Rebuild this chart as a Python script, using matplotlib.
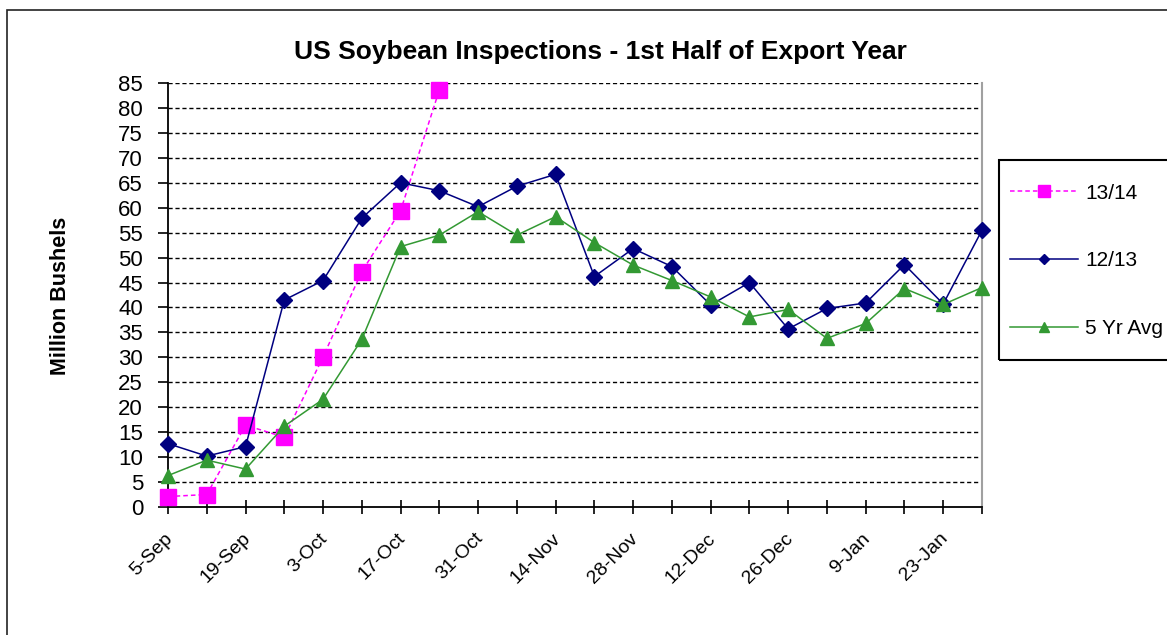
import matplotlib
matplotlib.use("Agg")
import matplotlib.pyplot as plt
import matplotlib.transforms as mtransforms
from matplotlib.patches import Rectangle

plt.rcParams['font.family'] = ['Liberation Sans', 'DejaVu Sans']

weeks = ['5-Sep', '12-Sep', '19-Sep', '26-Sep', '3-Oct', '10-Oct', '17-Oct', '24-Oct',
         '31-Oct', '7-Nov', '14-Nov', '21-Nov', '28-Nov', '5-Dec', '12-Dec', '19-Dec',
         '26-Dec', '2-Jan', '9-Jan', '16-Jan', '23-Jan', '30-Jan']
s1314 = [2.1, 2.5, 16.4, 14.0, 30.1, 47.2, 59.4, 83.6]
s1213 = [12.7, 10.2, 12.1, 41.5, 45.4, 57.9, 65.0, 63.4, 60.2, 64.3, 66.7, 46.2,
         51.8, 48.2, 40.5, 45.0, 35.7, 39.8, 40.9, 48.6, 40.7, 55.5]
avg5 = [6.3, 9.4, 7.6, 16.2, 21.6, 33.6, 52.2, 54.5, 59.2, 54.5, 58.2, 53.0,
        48.5, 45.4, 42.1, 38.1, 39.6, 33.8, 36.8, 43.8, 40.6, 44.0]
yticks = list(range(0, 90, 5))
series_names = ['13/14', '12/13', '5 Yr Avg']

W, H = 1167, 635
fig = plt.figure(figsize=(W / 100, H / 100), dpi=100)
fig.patch.set_facecolor('white')

# outer chart border (clipped at right/bottom like reference)
fig.patches.append(Rectangle((7 / W, -0.2), 1.2, (H - 10) / H + 0.2, transform=fig.transFigure,
                             fill=False, edgecolor='#222222', linewidth=1.2))

ax = fig.add_axes([168 / W, 1 - 507 / H, (982 - 168) / W, (507 - 83) / H])

x = list(range(len(weeks)))
ax.plot(x[:len(s1314)], s1314, color='#FF00FF', linestyle=(0, (3, 2)), linewidth=1.1,
        marker='s', markersize=12, markeredgecolor='#FF00FF', label=series_names[0],
        zorder=3, clip_on=False)
ax.plot(x, s1213, color='#000080', linewidth=1.1, marker='D', markersize=8,
        label=series_names[1], zorder=4, clip_on=False)
ax.plot(x, avg5, color='#339933', linewidth=1.1, marker='^', markersize=10,
        label=series_names[2], zorder=5, clip_on=False)

ax.set_xlim(0, len(weeks) - 1)
ax.set_ylim(0, 85)
ax.set_yticks(yticks)
ax.set_yticklabels([str(v) for v in yticks], fontsize=16)
ax.set_xticks(x)
ax.set_xticklabels([w if i % 2 == 0 else '' for i, w in enumerate(weeks)],
                   rotation=45, ha='right', va='top', fontsize=14)

ax.tick_params(axis='y', direction='out', length=7, width=1.2, pad=11, colors='black')
ax.tick_params(axis='x', direction='inout', length=10, width=1.2, pad=11.5, colors='black')

offset = mtransforms.ScaledTranslation(8 / 100, 0, fig.dpi_scale_trans)
for lab in ax.get_xticklabels():
    lab.set_transform(lab.get_transform() + offset)

for yv in yticks[1:]:
    ax.axhline(yv, color='black', linestyle=(0, (3, 2)), linewidth=1.0, zorder=1)

ax.spines['top'].set_visible(False)
ax.spines['right'].set_color('#A0A0A0')
ax.spines['right'].set_linewidth(1.5)
ax.spines['left'].set_linewidth(1.3)
ax.spines['bottom'].set_linewidth(1.3)
for sp in ax.spines.values():
    sp.set_zorder(2)

fig.text(600 / W, 1 - 52 / H, 'US Soybean Inspections - 1st Half of Export Year',
         ha='center', va='center', fontsize=19, fontweight='bold')
fig.text(60 / W, 1 - 296 / H, 'Million Bushels', ha='center', va='center',
         rotation=90, fontsize=15.5, fontweight='bold')

# legend box
fig.patches.append(Rectangle((999 / W, 1 - 360 / H), 0.3, 200 / H, transform=fig.transFigure,
                             fill=False, edgecolor='black', linewidth=1.5))
leg = fig.legend(loc='center left', bbox_to_anchor=(1010 / W, 1 - 261 / H), frameon=False,
                 fontsize=15, handlelength=3.27, handletextpad=0.34, labelspacing=2.35,
                 markerscale=0.7, borderaxespad=0, borderpad=0)

fig.savefig('out.png', dpi=100, facecolor='white')
